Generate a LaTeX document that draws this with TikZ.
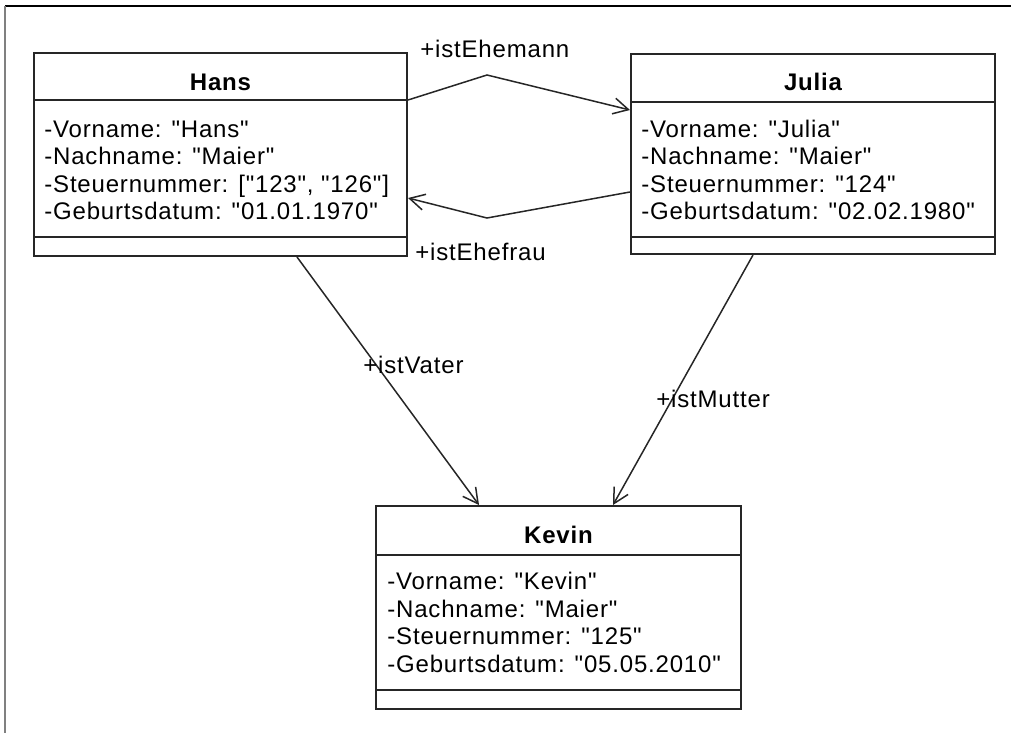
\documentclass[tikz,border=0pt]{standalone}
\usepackage{fontspec}
\setmainfont{Liberation Sans}[LetterSpace=3.4, Ligatures=TeXOff]
\usetikzlibrary{arrows.meta,calc}

\begin{document}
\begin{tikzpicture}[x=0.5pt,y=-0.5pt, font=\fontsize{12}{14}\selectfont,
  classbox/.style={draw=black!85, line width=1pt, anchor=north west, inner sep=0pt},
  classline/.style={draw=black!85, line width=1pt},
  classname/.style={font=\fontsize{12}{14}\selectfont\bfseries, inner sep=0pt},
  attr/.style={anchor=base west, inner sep=0pt},
  role/.style={anchor=base west, inner sep=0pt},
  assoc/.style={draw=black!85, line width=0.75pt, -{Straight Barb[length=7.5pt,width=8pt]}}]

\useasboundingbox (0,0) rectangle (1011,733);

\def\dy{27.5}; % attribute line distance

% frame
\draw[line width=1pt] (5,6) -- (1011,6);
\draw[line width=1pt, gray] (5,6) -- (5,733);

% Hans
\node[classbox, minimum width=186.5pt, minimum height=101.5pt] (hans) at (33,52) {};
\draw[classline] ($(hans.north west)+(0,48)$) -- ($(hans.north east)+(0,48)$);
\draw[classline] ($(hans.north west)+(0,185)$) -- ($(hans.north east)+(0,185)$);
\node[classname] (hansN) at ($(hans.north)+(0,30)$) {Hans};
\foreach \t [count=\i] in {{-Vorname: "Hans"}, {-Nachname: "Maier"},
    {-Steuernummer: ["123", "126"]}, {-Geburtsdatum: "01.01.1970"}}
  \node[attr] (hansA\i) at ($(hans.north west)+(11,57.5+\dy*\i)$) {\t};

% Julia
\node[classbox, minimum width=182pt, minimum height=100pt] (julia) at (630,53) {};
\draw[classline] ($(julia.north west)+(0,49)$) -- ($(julia.north east)+(0,49)$);
\draw[classline] ($(julia.north west)+(0,184)$) -- ($(julia.north east)+(0,184)$);
\node[classname] (juliaN) at ($(julia.north)+(0,29)$) {Julia};
\foreach \t [count=\i] in {{-Vorname: "Julia"}, {-Nachname: "Maier"},
    {-Steuernummer: "124"}, {-Geburtsdatum: "02.02.1980"}}
  \node[attr] (juliaA\i) at ($(julia.north west)+(11,56.5+\dy*\i)$) {\t};

% Kevin
\node[classbox, minimum width=182.5pt, minimum height=101.5pt] (kevin) at (375,505) {};
\draw[classline] ($(kevin.north west)+(0,50)$) -- ($(kevin.north east)+(0,50)$);
\draw[classline] ($(kevin.north west)+(0,185)$) -- ($(kevin.north east)+(0,185)$);
\node[classname] (kevinN) at ($(kevin.north)+(0,30)$) {Kevin};
\foreach \t [count=\i] in {{-Vorname: "Kevin"}, {-Nachname: "Maier"},
    {-Steuernummer: "125"}, {-Geburtsdatum: "05.05.2010"}}
  \node[attr] (kevinA\i) at ($(kevin.north west)+(12,57+\dy*\i)$) {\t};

% associations
\coordinate (bendM) at (487,75);
\coordinate (bendF) at (487,218);
\draw[assoc] ($(hans.north east)+(0,48)$) -- (bendM) -- ($(julia.north west)+(0,57)$);
\draw[assoc] ($(julia.north west)+(0,139)$) -- (bendF) -- ($(hans.north east)+(0,146)$);
\draw[assoc] ($(hans.south west)+(264,0)$) -- ($(kevin.north west)+(104,0)$);
\draw[assoc] ($(julia.south west)+(123,0)$) -- ($(kevin.north west)+(238,0)$);

% role names
\node[role] (ehemann) at (420,58) {+istEhemann};
\node[role] (ehefrau) at (415,260) {+istEhefrau};
\node[role] (vater) at (363,373) {+istVater};
\node[role] (mutter) at (656,407) {+istMutter};

\end{tikzpicture}
\end{document}
